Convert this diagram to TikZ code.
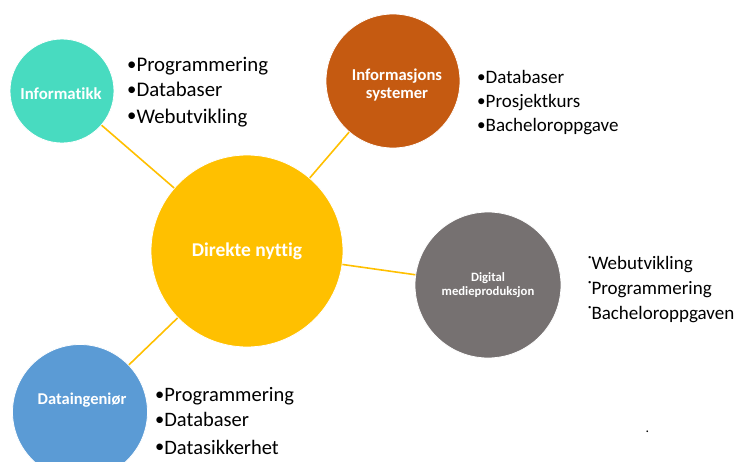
\documentclass[tikz,border=0pt]{standalone}
\usepackage{fontspec}
\setmainfont{Carlito}[Ligatures=NoCommon]
\definecolor{cteal}{HTML}{48DBC0}
\definecolor{cbrown}{HTML}{C55A11}
\definecolor{cyel}{HTML}{FFC000}
\definecolor{cgray}{HTML}{767171}
\definecolor{cblue}{HTML}{5B9BD5}
\tikzset{
  topic/.style={circle, draw=white, line width=0.8pt, inner sep=0pt, text=white, align=center, font=\bfseries},
  conn/.style={draw=cyel, line width=1.6pt},
  item/.style={anchor=base west, inner sep=0pt, text=black},
}
\newcommand{\bul}{\raisebox{0.05em}{\scalebox{0.9}{•}}}
\newcommand{\tinybul}{\raisebox{0.5em}{\scalebox{0.35}{•}}}
\begin{document}
\begin{tikzpicture}[x=1pt,y=-1pt]
\useasboundingbox (0,0) rectangle (734,461);
\clip (0,0) rectangle (734,461);
\fill[white] (0,0) rectangle (734,461);

\node[topic, fill=cyel, minimum size=192pt, font=\bfseries\fontsize{19.5}{22}\selectfont] (c) at (247,251) {Direkte nyttig};
\node[topic, fill=cteal, minimum size=104pt] (inf) at (62,91) {};
\node[text=white, font=\bfseries\fontsize{16.8}{19}\selectfont, inner sep=0pt] (infl) at (61,94) {Informatikk};
\node[topic, fill=cbrown, minimum size=134pt] (is) at (393,81) {};
\node[text=white, font=\bfseries\fontsize{16.6}{18}\selectfont, align=center, inner sep=0pt] (isl) at (397,85) {Informasjons\\systemer};
\node[topic, fill=cgray, minimum size=146pt] (dm) at (488,285) {};
\node[text=white, font=\bfseries\fontsize{12.7}{14}\selectfont, align=center, inner sep=0pt] (dml) at (488,285) {Digital\\medieproduksjon};
\node[topic, fill=cblue, minimum size=135pt] (de) at (80,412) {};
\node[text=white, font=\bfseries\fontsize{16.5}{19}\selectfont, inner sep=0pt] (del) at (82,400) {Dataingeniør};

\draw[conn] (inf) -- (c);
\draw[conn] (is) -- (c);
\draw[conn] (dm) -- (c);
\draw[conn] (de) -- (c);

\begin{scope}[font=\fontsize{20.8}{24}\selectfont]
\node[item] (i1) at (127,71.5) {\bul Programmering};
\node[item] (i2) at (127,96.5) {\bul Databaser};
\node[item] (i3) at (127,123) {\bul Webutvikling};
\end{scope}
\begin{scope}[font=\fontsize{19}{22}\selectfont]
\node[item] (s1) at (477,83) {\bul Databaser};
\node[item] (s2) at (477,107) {\bul Prosjektkurs};
\node[item] (s3) at (477,131) {\bul Bacheloroppgave};
\end{scope}
\begin{scope}[font=\fontsize{19}{22}\selectfont]
\node[item] (d1) at (588,269) {\tinybul Webutvikling};
\node[item] (d2) at (588,294) {\tinybul Programmering};
\node[item] (d3) at (588,319) {\tinybul Bacheloroppgaven};
\end{scope}
\begin{scope}[font=\fontsize{20.5}{24}\selectfont]
\node[item] (e1) at (155,401.5) {\bul Programmering};
\node[item] (e2) at (155,426.5) {\bul Databaser};
\node[item] (e3) at (155,454) {\bul Datasikkerhet};
\end{scope}
\node[item, font=\fontsize{14}{16}\selectfont] (dot) at (645.5,432) {.};
\end{tikzpicture}
\end{document}
